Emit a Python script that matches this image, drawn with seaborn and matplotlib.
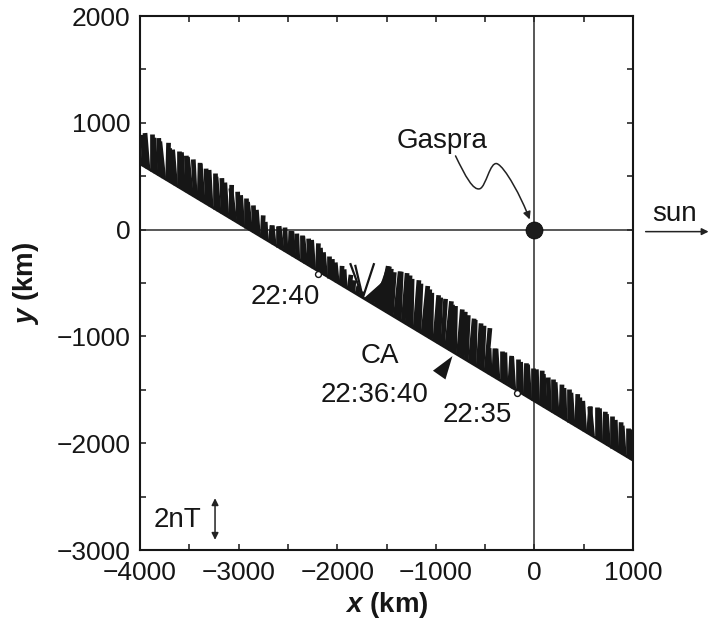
import numpy as np
import matplotlib
matplotlib.use("Agg")
import matplotlib.pyplot as plt
import seaborn as sns
import pandas as pd
from matplotlib.collections import LineCollection
from matplotlib.markers import MarkerStyle
from matplotlib.transforms import Affine2D
from matplotlib.path import Path
from matplotlib.patches import FancyArrowPatch
from matplotlib import font_manager

# ---------------- data ----------------
# spacecraft trajectory (km), straight line across the panel
traj_x = [-4000, 1000]
traj_y = [617, -2159]

KM_PER_NT = 195.0          # 2 nT scale bar = 390 km
STEP_KM = 40               # along-track spacing of the field vectors

# segment A (inbound, from x=-4000): field vector components (nT)
segA_start = -4000
segA_by = [1.30, 1.50, 1.70, 1.75, 1.70, 1.80, 1.75, 1.80, 1.65, 1.70,
           1.75, 1.80, 1.75, 1.80, 1.80, 1.75, 1.80, 1.70, 1.75, 1.70,
           1.65, 1.70, 1.60, 1.60, 1.55, 1.50, 1.45, 1.45, 1.35, 1.30,
           1.20, 1.05, 0.85, 0.80, 0.90, 1.00, 1.10, 1.15, 1.10, 1.20,
           1.20, 1.25, 1.30, 1.30, 1.35, 1.30, 1.20, 1.10, 1.05, 1.00,
           0.95, 0.90, 0.85, 0.70, 0.55, 0.40, 0.25]
segA_bx = [-0.10, -0.05, -0.15, 0.00, -0.10, -0.05, -0.20, 0.05, -0.10, -0.15,
           0.00, -0.10, -0.05, -0.20, -0.10, 0.05, -0.15, -0.05, -0.10, 0.00,
           -0.15, -0.05, -0.10, 0.05, -0.20, -0.05, -0.10, 0.00, -0.15, -0.05,
           -0.10, 0.05, -0.05, 0.10, -0.10, 0.00, -0.15, -0.05, 0.05, -0.10,
           -0.05, 0.00, -0.15, -0.05, -0.10, 0.05, -0.05, -0.10, 0.00, -0.05,
           -0.10, 0.05, -0.05, 0.10, 0.05, 0.10, 0.05]

# sparse vectors in the data gap
gap_x = [-1740, -1740, -1740, -1720, -1710]
gap_bx = [-0.66, -0.40, 0.59, 1.35, 1.45]
gap_by = [1.66, 1.58, 1.66, 1.10, 1.25]

# segment C (around closest approach)
segC_start = -1690
segC_by = [1.25, 1.55, 1.85, 2.00, 2.10, 2.10, 2.05, 2.20, 2.30, 2.35,
           2.35, 2.30, 2.35, 2.30, 2.30, 2.25, 2.20, 2.20, 2.20, 2.25,
           2.25, 2.20, 2.25, 2.20, 2.20, 2.15, 2.10, 2.15, 2.10, 2.10,
           2.10]
segC_bx = [1.30, 1.00, 0.70, 0.45, 0.30, 0.20, 0.15, 0.25, 0.10, 0.20,
           0.15, 0.05, 0.20, 0.10, 0.25, 0.15, 0.05, 0.20, 0.10, 0.15,
           0.25, 0.10, 0.05, 0.20, 0.15, 0.10, 0.20, 0.05, 0.15, 0.10,
           0.20]

# segment D (outbound, to x=1000)
segD_start = -450
segD_by = [1.25, 1.35, 1.45, 1.45, 1.50, 1.45, 1.50, 1.55, 1.50, 1.55,
           1.60, 1.55, 1.60, 1.65, 1.60, 1.55, 1.60, 1.55, 1.55, 1.50,
           1.55, 1.50, 1.55, 1.50, 1.45, 1.30, 1.40, 1.50, 1.55, 1.50,
           1.50, 1.50, 1.45, 1.45, 1.40, 1.40, 1.45]
segD_bx = [-0.05, 0.05, -0.10, 0.00, -0.05, 0.10, -0.10, 0.00, -0.05, 0.05,
           -0.10, 0.00, -0.05, 0.05, -0.10, -0.05, 0.00, -0.10, 0.05, -0.05,
           0.00, -0.10, 0.05, -0.05, -0.10, 0.10, -0.15, 0.00, -0.05, 0.05,
           -0.10, 0.00, -0.05, 0.05, -0.10, 0.00, -0.05]

# time marks along the track
time_labels = ["22:40", "22:35"]
time_x = [-2192, -179]
ca_label = ["CA", "22:36:40"]
ca_xy = (-920, -1285)

xticks = [-4000, -3000, -2000, -1000, 0, 1000]
yticks = [-3000, -2000, -1000, 0, 1000, 2000]

# ---------------- style ----------------
sns.set_style("ticks")


def has_font(name):
    try:
        font_manager.findfont(font_manager.FontProperties(family=name),
                              fallback_to_default=False)
        return True
    except Exception:
        return False


plt.rcParams['font.family'] = ['Liberation Sans', 'DejaVu Sans']
plt.rcParams['mathtext.fontset'] = 'custom'
plt.rcParams['mathtext.it'] = 'Liberation Sans:italic:bold'
plt.rcParams['mathtext.rm'] = 'Liberation Sans:bold'
narrow = has_font('Liberation Sans Narrow')
tick_family = ['Liberation Sans Narrow', 'Liberation Sans'] if narrow else ['Liberation Sans']
tick_size = 22 if narrow else 19

INK = '#161616'

fig = plt.figure(figsize=(7.11, 6.20), dpi=100)
ax = fig.add_axes([140 / 711, 1 - 550 / 620, 493 / 711, 534 / 620])
ax.set_xlim(-4000, 1000)
ax.set_ylim(-3000, 2000)

# reference axes through Gaspra
ax.axhline(0, color='#2a2a2a', lw=1.1, zorder=1)
ax.axvline(0, color='#2a2a2a', lw=1.1, zorder=1)


def track_y(x):
    return np.interp(x, traj_x, traj_y)


def segments(x0, bx, by, xs=None):
    if xs is None:
        xs = x0 + STEP_KM * np.arange(len(by))
    xs = np.asarray(xs, float)
    ys = track_y(xs)
    ex = xs + np.asarray(bx) * KM_PER_NT
    ey = ys + np.asarray(by) * KM_PER_NT
    return [[(a, b), (c, d)] for a, b, c, d in zip(xs, ys, ex, ey)]


dense = (segments(segA_start, segA_bx, segA_by)
         + segments(segC_start, segC_bx, segC_by)
         + segments(segD_start, segD_bx, segD_by))
ax.add_collection(LineCollection(dense, colors=INK, linewidths=3.4,
                                 capstyle='butt', zorder=3))
ax.add_collection(LineCollection(segments(None, gap_bx, gap_by, xs=gap_x),
                                 colors=INK, linewidths=1.6, capstyle='butt', zorder=3))

# trajectory line
traj_df = pd.DataFrame({'x': traj_x, 'y': traj_y})
sns.lineplot(data=traj_df, x='x', y='y', color=INK, lw=2.0, ax=ax, zorder=4)

# time marks
sns.scatterplot(x=time_x, y=list(track_y(time_x) - 25), ax=ax, s=18,
                marker='o', facecolor='white', edgecolor=INK, linewidth=1.0, zorder=5)

# Gaspra
sns.scatterplot(x=[0], y=[0], ax=ax, s=150, color='#1c1c1c', edgecolor='#000000',
                linewidth=0.5, zorder=6)

# CA triangle marker
tri = MarkerStyle([(0, 0.6), (-0.33, -0.4), (0.33, -0.4), (0, 0.6)],
                  transform=Affine2D().rotate_deg(-35))
ax.scatter([ca_xy[0]], [ca_xy[1]], marker=tri, s=20 ** 2, color=INK, zorder=6,
           linewidths=0)

# annotations
txt_kw = dict(fontsize=20, color=INK, ha='center', va='baseline')
ax.text(-932, 766, "Gaspra", **txt_kw)
ax.text(-2529, -692, time_labels[0], **txt_kw)
ax.text(-582, -1801, time_labels[1], **txt_kw)
ax.text(-1566, -1252, ca_label[0], **txt_kw)
ax.text(-1617, -1617, ca_label[1], **txt_kw)
ax.text(1426, 84, "sun", clip_on=False, **txt_kw)
ax.text(-3620, -2720, "2nT", fontsize=20, color=INK, ha='center', va='center')

# wavy arrow from label to Gaspra
wave = Path([(-800, 690), (-700, 500), (-620, 360), (-552, 383),
             (-490, 405), (-450, 640), (-379, 617),
             (-300, 590), (-130, 300), (-48, 95)],
            [Path.MOVETO] + [Path.CURVE4] * 9)
ax.add_patch(FancyArrowPatch(path=wave, arrowstyle='-|>', mutation_scale=11,
                             lw=1.1, color='#222222', zorder=5))

# sun arrow (outside the axes)
ax.add_patch(FancyArrowPatch((1100, -19), (1795, -19), arrowstyle='-|>',
                             mutation_scale=10, lw=1.1, color='#222222',
                             clip_on=False, zorder=5))

# 2 nT scale bar
ax.add_patch(FancyArrowPatch((-3239, -2710 - KM_PER_NT), (-3239, -2710 + KM_PER_NT),
                             arrowstyle='<|-|>', mutation_scale=10, lw=1.1,
                             color='#222222', zorder=5, shrinkA=0, shrinkB=0))

# axes styling
ax.set_xticks(xticks)
ax.set_yticks(yticks)
ax.set_xticklabels([f"{v}".replace('-', '\u2212') for v in xticks])
ax.set_yticklabels([f"{v}".replace('-', '\u2212') for v in yticks])
ax.xaxis.set_minor_locator(matplotlib.ticker.MultipleLocator(500))
ax.yaxis.set_minor_locator(matplotlib.ticker.MultipleLocator(500))
ax.tick_params(which='both', direction='in', top=True, right=True,
               length=4, width=1.1, color=INK)
ax.tick_params(axis='x', pad=8)
ax.tick_params(axis='y', pad=7)
for lab in ax.get_xticklabels() + ax.get_yticklabels():
    lab.set_family(tick_family)
    lab.set_fontsize(tick_size)
    lab.set_color(INK)
for sp in ax.spines.values():
    sp.set_visible(True)
    sp.set_linewidth(1.5)
    sp.set_color(INK)

ax.set_xlabel(r"$x$ (km)", fontsize=20, fontweight='bold', color=INK)
ax.set_ylabel(r"$y$ (km)", fontsize=20, fontweight='bold', color=INK)
ax.xaxis.set_label_coords(0.5, -0.075)
ax.yaxis.set_label_coords(-0.20, 0.5)

fig.savefig("out.png", dpi=100, facecolor='white')
